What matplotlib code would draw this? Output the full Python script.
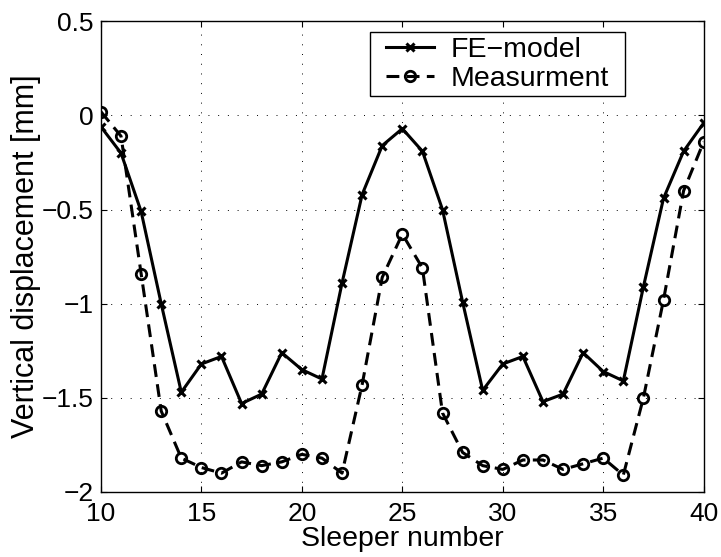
import numpy as np
import matplotlib
matplotlib.use("Agg")
from matplotlib import pyplot as plt
from matplotlib.patches import Rectangle

plt.rcParams['font.family'] = ['Liberation Sans', 'DejaVu Sans']

sleeper = list(range(10, 41))
fe_model = [-0.06, -0.20, -0.51, -1.00, -1.47, -1.32, -1.28, -1.53, -1.48, -1.26,
            -1.35, -1.40, -0.89, -0.42, -0.16, -0.07, -0.19, -0.50, -0.99, -1.46,
            -1.32, -1.28, -1.52, -1.48, -1.26, -1.36, -1.41, -0.91, -0.44, -0.19,
            -0.04]
measurement = [0.02, -0.11, -0.84, -1.57, -1.82, -1.87, -1.90, -1.84, -1.86, -1.84,
               -1.80, -1.82, -1.90, -1.43, -0.86, -0.63, -0.81, -1.58, -1.79, -1.86,
               -1.88, -1.83, -1.83, -1.88, -1.85, -1.82, -1.91, -1.50, -0.98, -0.40,
               -0.14]
xticks = [10, 15, 20, 25, 30, 35, 40]
yticks = [-2, -1.5, -1, -0.5, 0, 0.5]
ytick_labels = ['\u22122', '\u22121.5', '\u22121', '\u22120.5', '0', '0.5']

fig = plt.figure(figsize=(7.21, 5.57), dpi=100)
ax = fig.add_axes([0.140, 0.1167, 0.836, 0.845])

ax.plot(sleeper, fe_model, color='k', lw=2.2, marker='x', ms=6, mew=2.2,
        label='FE\u2212model')
ax.plot(sleeper, measurement, color='k', lw=2.2, ls=(0, (4.2, 2.4)), marker='o',
        ms=7.5, mew=2, mfc='none', label='Measurment')

ax.set_xlim(10, 40)
ax.set_ylim(-2, 0.5)
ax.set_xticks(xticks)
ax.set_yticks(yticks)
ax.set_yticklabels(ytick_labels)
ax.tick_params(direction='in', top=True, right=True, labelsize=19, length=4,
               width=0.8)
ax.tick_params(axis='x', pad=7)
ax.tick_params(axis='y', pad=5)
ax.grid(True, color='k', ls=(0, (1, 9)), lw=0.7)
for s in ax.spines.values():
    s.set_linewidth(1.0)

ax.set_xlabel('Sleeper number', fontsize=20.5, labelpad=0)
ax.set_ylabel('Vertical displacement [mm]', fontsize=22, labelpad=0.5)

leg = ax.legend(loc='upper left', bbox_to_anchor=(0.4655, 0.9766), borderaxespad=0,
                fontsize=20.5, frameon=False, handlelength=1.68, borderpad=0.15,
                labelspacing=0.12, handletextpad=0.6)

# legend frame wider than its text, as in the original
fig.canvas.draw()
bb = leg.get_window_extent(fig.canvas.get_renderer())
padx = 12
frame = Rectangle((bb.x0 - padx, bb.y0), bb.width + 2 * padx, bb.height,
                  transform=None, facecolor='white', edgecolor='k', lw=1.0,
                  clip_on=False, zorder=4.9)
ax.add_artist(frame)
leg.set_zorder(5)

fig.savefig('out.png', dpi=100)
